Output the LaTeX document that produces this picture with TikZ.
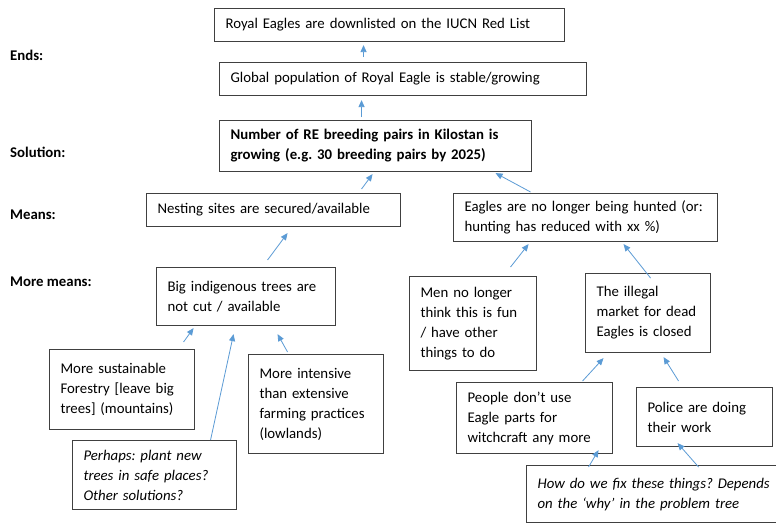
\documentclass[tikz,border=0pt]{standalone}
\usepackage{fontspec}
\setmainfont{Carlito}
\usetikzlibrary{arrows.meta}
\definecolor{arrowblue}{RGB}{91,155,213}
\definecolor{boxline}{RGB}{64,64,64}
\frenchspacing
\begin{document}
\begin{tikzpicture}[x=1pt,y=-1pt]
	\tikzstyle{every node}+=[font=\fontsize{14.8}{20}\selectfont]
	\tikzstyle{box}=[draw=boxline, line width=1.1pt, anchor=north west, align=left, inner xsep=11pt, inner ysep=2pt, execute at begin node={\rightskip=0pt plus 1fil minus 30pt}]
	\tikzstyle{lbl}=[anchor=west, inner sep=0pt, font=\fontsize{14.8}{20}\selectfont\bfseries]
	\tikzstyle{arr}=[arrowblue, line width=0.8pt, -{Triangle[length=7pt,width=6pt]}]
	\clip (0,0) rectangle (776,525);
	\fill[white] (0,0) rectangle (776,525);
	\node[lbl] (ends) at (10,55) {Ends:};
	\node[lbl] (solution) at (10,152) {Solution:};
	\node[lbl] (means) at (10,215) {Means:};
	\node[lbl] (moremeans) at (10,282) {More means:};
	\node[box, text width=328pt, minimum height=33pt] (iucn) at (214,8) {Royal Eagles are downlisted on the IUCN Red List};
	\node[box, text width=345pt, minimum height=33pt] (glob) at (219,62) {Global population of Royal Eagle is stable/growing};
	\node[box, text width=290pt, minimum height=51pt, font=\fontsize{14.8}{20}\selectfont\bfseries] (sol) at (219,120) {Number of RE breeding pairs in Kilostan is\\growing (e.g. 30 breeding pairs by 2025)};
	\node[box, text width=232pt, minimum height=33pt] (nest) at (146,193) {Nesting sites are secured/available};
	\node[box, text width=242pt, minimum height=48pt] (hunt) at (453,193) {Eagles are no longer being hunted (or:\\hunting has reduced with xx \%)};
	\node[box, text width=157pt, minimum height=58pt] (trees) at (156,267) {Big indigenous trees are\\not cut / available};
	\node[box, text width=105pt, minimum height=94pt] (men) at (409,276) {Men no longer\\think this is fun\\/ have other\\things to do};
	\node[box, text width=103pt, minimum height=79pt] (market) at (585,273) {The illegal\\market for dead\\Eagles is closed};
	\node[box, text width=123pt, minimum height=80pt] (forest) at (49,349) {More sustainable\\Forestry [leave big\\trees] (mountains)};
	\node[box, text width=113pt, minimum height=99pt] (farm) at (248,354) {More intensive\\than extensive\\farming practices\\(lowlands)};
	\node[box, text width=142pt, minimum height=69pt, font=\fontsize{14.8}{20}\selectfont\itshape] (plant) at (72,440) {Perhaps: plant new\\trees in safe places?\\Other solutions?};
	\node[box, text width=134pt, minimum height=71pt] (witch) at (456,382) {People don’t use\\Eagle parts for\\witchcraft any more};
	\node[box, text width=114pt, minimum height=59pt] (police) at (636,387) {Police are doing\\their work};
	\node[box, text width=258pt, minimum height=57pt, font=\fontsize{14.8}{20}\selectfont\itshape] (fix) at (526,465) {How do we fix these things? Depends\\on the ‘why’ in the problem tree};
	\draw[arr] ([xshift=-39.5pt,yshift=5pt]glob.north) -- ([xshift=-26pt,yshift=-3pt]iucn.south);
	\draw[arr] ([xshift=-14pt,yshift=3pt]sol.north) -- ([xshift=-41.5pt,yshift=-4pt]glob.south);
	\draw[arr] ([xshift=88pt,yshift=4pt]nest.north) -- ([xshift=-3pt,yshift=-2pt]sol.south);
	\draw[arr] ([xshift=-55pt,yshift=1pt]hunt.north) -- ([xshift=120pt,yshift=-1pt]sol.south);
	\draw[arr] ([xshift=21.5pt,yshift=7pt]trees.north) -- ([xshift=14pt,yshift=-6pt]nest.south);
	\draw[arr] ([xshift=37.5pt,yshift=9pt]men.north) -- ([xshift=-57pt,yshift=-2pt]hunt.south);
	\draw[arr] ([xshift=2.5pt,yshift=-5pt]market.north) -- ([xshift=38pt,yshift=-2pt]hunt.south);
	\draw[arr] ([xshift=61.5pt,yshift=7pt]forest.north) -- ([xshift=-52.5pt,yshift=-2pt]trees.south);
	\draw[arr] ([xshift=56pt]plant.north) -- ([xshift=-12.5pt,yshift=-8pt]trees.south);
	\draw[arr] ([xshift=-28.5pt,yshift=2pt]farm.north) -- ([xshift=31.5pt,yshift=-8pt]trees.south);
	\draw[arr] ([xshift=48pt,yshift=1pt]witch.north) -- ([xshift=-44.5pt,yshift=-5pt]market.south);
	\draw[arr] ([xshift=-26pt,yshift=6pt]police.north) -- ([xshift=15.5pt,yshift=-4pt]market.south);
	\draw[arr] ([xshift=-78pt,yshift=-2pt]fix.north) -- ([xshift=64pt,yshift=4pt]witch.south);
	\draw[arr] ([xshift=32pt,yshift=-2pt]fix.north) -- ([xshift=-27pt,yshift=4pt]police.south);
\end{tikzpicture}
\end{document}
